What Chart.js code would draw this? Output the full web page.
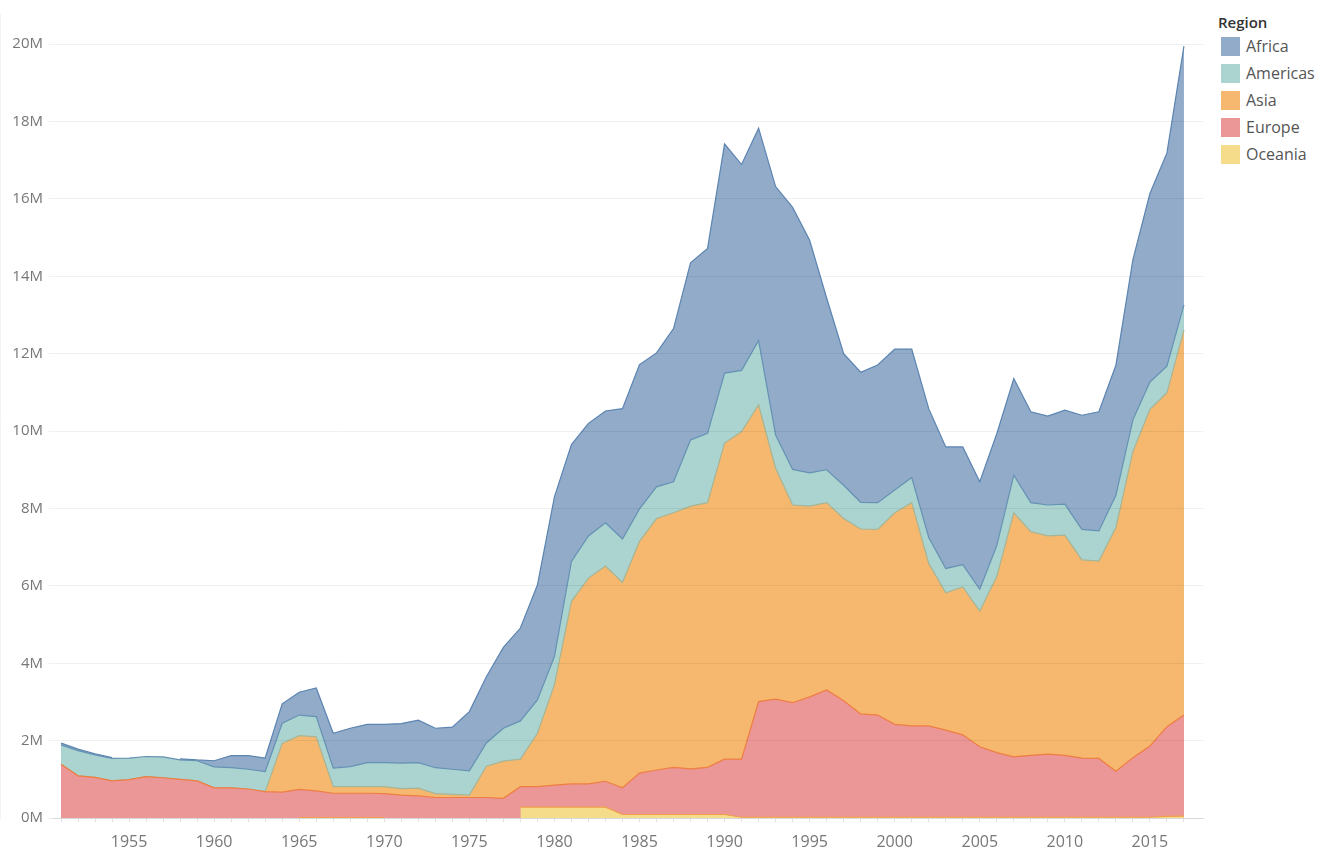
<!DOCTYPE html>
<html>
<head>
<meta charset="utf-8">
<script src="https://cdn.jsdelivr.net/npm/chart.js@4.4.1/dist/chart.umd.min.js"></script>
<style>
  html, body { margin: 0; padding: 0; background: #fff; }
  body { width: 1327px; height: 866px; position: relative; overflow: hidden; font-family: "Open Sans", "Noto Sans", sans-serif; }
  #chart { position: absolute; left: 0; top: 0; }
  #legend { position: absolute; left: 1218px; top: 12px; }
  #legend .title { font-size: 15px; font-weight: 600; color: #333; height: 24px; line-height: 20px; }
  #legend .item { position: relative; height: 27px; }
  #legend .sw { position: absolute; left: 3px; top: 1px; width: 19px; height: 19px; }
  #legend .lbl { position: absolute; left: 28px; top: 0px; font-size: 16px; line-height: 21px; color: #555; }
</style>
</head>
<body>
<canvas id="chart" width="1205" height="866"></canvas>
<div id="legend"></div>
<script>
// datos (millones) por año
const years = [1951,1952,1953,1954,1955,1956,1957,1958,1959,1960,1961,1962,1963,1964,1965,1966,1967,1968,1969,1970,
  1971,1972,1973,1974,1975,1976,1977,1978,1979,1980,1981,1982,1983,1984,1985,1986,1987,1988,1989,1990,
  1991,1992,1993,1994,1995,1996,1997,1998,1999,2000,2001,2002,2003,2004,2005,2006,2007,2008,2009,2010,
  2011,2012,2013,2014,2015,2016,2017];

const oceania = [null,null,null,null,null,null,null,null,null,null,null,null,null,null,0.01,0.01,0.01,0.01,0.01,0.01,
  null,null,null,null,null,null,null,0.28,0.28,0.28,0.28,0.28,0.28,0.09,0.09,0.09,0.09,0.09,0.09,0.09,
  0.02,0.02,0.02,0.02,0.02,0.02,0.02,0.02,0.02,0.02,0.02,0.02,0.02,0.02,0.02,0.02,0.02,0.02,0.02,0.02,
  0.02,0.02,0.02,0.02,0.02,0.04,0.05];

const europe = [1.39,1.09,1.05,0.96,0.99,1.07,1.04,1.00,0.96,0.78,0.78,0.75,0.68,0.67,0.73,0.69,0.63,0.63,0.63,0.62,
  0.59,0.57,0.53,0.53,0.53,0.53,0.51,0.53,0.53,0.57,0.60,0.60,0.67,0.69,1.07,1.15,1.22,1.18,1.22,1.43,
  1.50,2.99,3.05,2.96,3.11,3.29,3.01,2.67,2.64,2.40,2.36,2.36,2.25,2.13,1.82,1.67,1.56,1.60,1.63,1.60,
  1.53,1.52,1.19,1.54,1.84,2.32,2.61];

const asia = [0,0,0,0,0,0,0,0,0,0,0,0,0,1.26,1.39,1.40,0.17,0.17,0.17,0.18,
  0.17,0.20,0.10,0.08,0.06,0.81,0.96,0.71,1.38,2.59,4.72,5.32,5.56,5.31,5.99,6.50,6.58,6.79,6.84,8.17,
  8.47,7.67,5.97,5.11,4.93,4.84,4.71,4.78,4.80,5.47,5.77,4.20,3.55,3.82,3.51,4.55,6.31,5.78,5.64,5.69,
  5.12,5.10,6.30,7.91,8.70,8.63,9.95];

const americas = [0.50,0.65,0.58,0.58,0.56,0.52,0.54,0.50,0.52,0.54,0.52,0.51,0.52,0.52,0.53,0.52,0.48,0.52,0.62,0.62,
  0.66,0.66,0.67,0.65,0.63,0.60,0.85,0.99,0.86,0.73,1.03,1.09,1.12,1.12,0.84,0.82,0.80,1.71,1.79,1.81,
  1.58,1.66,0.86,0.92,0.86,0.85,0.86,0.69,0.69,0.59,0.65,0.67,0.63,0.58,0.56,0.80,0.97,0.75,0.80,0.80,
  0.79,0.78,0.83,0.82,0.71,0.69,0.65];

const africa = [0.05,0.04,0.03,0.02,null,null,null,0.03,0.02,0.16,0.31,0.35,0.35,0.50,0.59,0.74,0.90,0.99,0.99,0.99,
  1.02,1.10,1.02,1.09,1.53,1.71,2.09,2.40,2.97,4.13,3.02,2.91,2.89,3.37,3.73,3.46,3.96,4.58,4.78,5.92,
  5.32,5.49,6.42,6.77,6.01,4.44,3.40,3.36,3.56,3.64,3.32,3.33,3.14,3.04,2.78,2.89,2.50,2.35,2.30,2.43,
  2.95,3.08,3.36,4.14,4.87,5.51,6.69];

const yTicks = [0,2,4,6,8,10,12,14,16,18,20];
const xTickLabels = [1955,1960,1965,1970,1975,1980,1985,1990,1995,2000,2005,2010,2015];

// leyenda (orden de la imagen)
const legendOrder = ['Africa','Americas','Asia','Europe','Oceania'];

const FONT = '"Open Sans", "Noto Sans", sans-serif';
const fillColors = { Africa:'#91abc9', Americas:'#abd3cf', Asia:'#f5b86e', Europe:'#eb9697', Oceania:'#f4dc8a' };
const lineColors = { Africa:'#5b84b1', Americas:'#6592b4', Asia:'#a7b596', Europe:'#ee7e42', Oceania:'#f0a04a' };

function pts(arr) {
    return years.map((y, i) => ({ x: y, y: arr[i] }));
}

// de abajo hacia arriba en la pila
const series = [['Oceania', oceania], ['Europe', europe], ['Asia', asia], ['Americas', americas], ['Africa', africa]];

const datasets = series.map(([name, arr]) => ({
    label: name,
    data: pts(arr),
    backgroundColor: fillColors[name],
    borderColor: lineColors[name],
    borderWidth: 1.2,
    pointRadius: 0,
    tension: 0,
    spanGaps: false,
    fill: 'origin'
}));

new Chart(document.getElementById('chart'), {
    type: 'line',
    data: { datasets: datasets },
    options: {
        responsive: false,
        animation: false,
        devicePixelRatio: 1,
        layout: { padding: { top: 5, right: 2, left: 0, bottom: 0 } },
        plugins: { legend: { display: false }, tooltip: { enabled: false } },
        scales: {
            x: {
                type: 'linear',
                min: 1950.47,
                max: 2018.12,
                afterBuildTicks: s => { s.ticks = years.map(v => ({ value: v })); },
                ticks: {
                    autoSkip: false, maxRotation: 0, minRotation: 0,
                    color: '#777', padding: 11,
                    font: { family: FONT, size: 16 },
                    callback: v => xTickLabels.includes(v) ? String(v) : ''
                },
                grid: { drawOnChartArea: false, drawTicks: true, tickLength: 4, color: '#e3e3e3' },
                border: { display: true, color: '#e6e6e6' },
                afterFit: s => { s.height = 48; }
            },
            y: {
                stacked: true,
                min: 0,
                max: 20.78,
                afterBuildTicks: s => { s.ticks = yTicks.map(v => ({ value: v })); },
                ticks: {
                    color: '#777', padding: 5,
                    font: { family: FONT, size: 15 },
                    callback: v => v + 'M'
                },
                grid: { color: 'rgba(0,0,0,0.06)', tickLength: 4, z: 1 },
                border: { display: true, color: '#e8e8e8' },
                afterFit: s => { s.width = 52; }
            }
        }
    }
});

// leyenda HTML
const leg = document.getElementById('legend');
leg.innerHTML = '<div class="title">Region</div>' + legendOrder.map(n =>
    `<div class="item"><div class="sw" style="background:${fillColors[n]}"></div><div class="lbl">${n}</div></div>`
).join('');
</script>
</body>
</html>
